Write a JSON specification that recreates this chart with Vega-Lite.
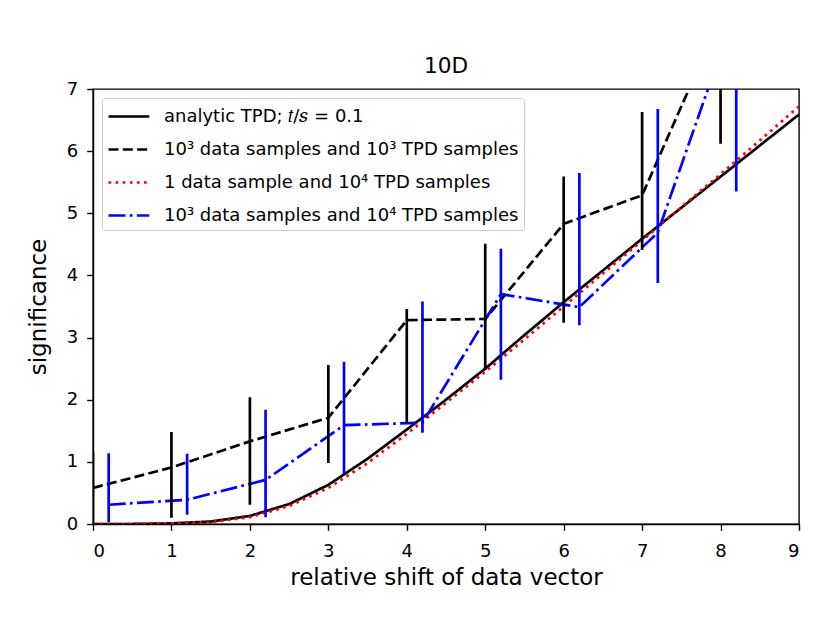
{
  "$schema": "https://vega.github.io/schema/vega-lite/v6.json",
  "width": 706,
  "height": 435,
  "autosize": {"type": "none"},
  "padding": {"left": 93, "top": 89, "right": 32, "bottom": 99},
  "background": "white",
  "title": {"text": "10D", "fontSize": 21.6, "font": "DejaVu Sans", "fontWeight": "normal", "color": "black", "offset": 2},
  "data": {
    "values": [
      {"series": "analytic", "x": 0, "y": 0},
      {"series": "analytic", "x": 0.5, "y": 0},
      {"series": "analytic", "x": 1, "y": 0.01},
      {"series": "analytic", "x": 1.5, "y": 0.04},
      {"series": "analytic", "x": 2, "y": 0.13},
      {"series": "analytic", "x": 2.5, "y": 0.32},
      {"series": "analytic", "x": 3, "y": 0.63},
      {"series": "analytic", "x": 3.5, "y": 1.05},
      {"series": "analytic", "x": 4, "y": 1.52},
      {"series": "analytic", "x": 4.5, "y": 2.0},
      {"series": "analytic", "x": 5, "y": 2.5},
      {"series": "analytic", "x": 5.5, "y": 3.04},
      {"series": "analytic", "x": 6, "y": 3.57},
      {"series": "analytic", "x": 6.5, "y": 4.08},
      {"series": "analytic", "x": 7, "y": 4.59},
      {"series": "analytic", "x": 7.5, "y": 5.09},
      {"series": "analytic", "x": 8, "y": 5.59},
      {"series": "analytic", "x": 8.5, "y": 6.09},
      {"series": "analytic", "x": 9, "y": 6.59},
      {"series": "d3t3", "x": 0, "y": 0.58, "lo": 0.0, "hi": 1.16},
      {"series": "d3t3", "x": 1, "y": 0.91, "lo": 0.1, "hi": 1.48},
      {"series": "d3t3", "x": 2, "y": 1.33, "lo": 0.31, "hi": 2.04},
      {"series": "d3t3", "x": 3, "y": 1.71, "lo": 0.98, "hi": 2.56},
      {"series": "d3t3", "x": 4, "y": 3.28, "lo": 1.62, "hi": 3.46},
      {"series": "d3t3", "x": 5, "y": 3.3, "lo": 2.48, "hi": 4.51},
      {"series": "d3t3", "x": 6, "y": 4.83, "lo": 3.24, "hi": 5.59},
      {"series": "d3t3", "x": 7, "y": 5.29, "lo": 4.41, "hi": 6.63},
      {"series": "d3t3", "x": 8, "y": 8.15, "lo": 6.12, "hi": 10.2},
      {"series": "d1t4", "x": 0, "y": 0},
      {"series": "d1t4", "x": 0.5, "y": 0},
      {"series": "d1t4", "x": 1, "y": 0.01},
      {"series": "d1t4", "x": 1.5, "y": 0.03},
      {"series": "d1t4", "x": 2, "y": 0.11},
      {"series": "d1t4", "x": 2.5, "y": 0.29},
      {"series": "d1t4", "x": 3, "y": 0.58},
      {"series": "d1t4", "x": 3.5, "y": 0.98},
      {"series": "d1t4", "x": 4, "y": 1.45},
      {"series": "d1t4", "x": 4.5, "y": 1.95},
      {"series": "d1t4", "x": 5, "y": 2.45},
      {"series": "d1t4", "x": 5.5, "y": 2.97},
      {"series": "d1t4", "x": 6, "y": 3.5},
      {"series": "d1t4", "x": 6.5, "y": 4.03},
      {"series": "d1t4", "x": 7, "y": 4.56},
      {"series": "d1t4", "x": 7.5, "y": 5.1},
      {"series": "d1t4", "x": 8, "y": 5.63},
      {"series": "d1t4", "x": 8.5, "y": 6.17},
      {"series": "d1t4", "x": 9, "y": 6.72},
      {"series": "d3t4", "x": 0.2, "y": 0.31, "lo": 0.03, "hi": 1.14},
      {"series": "d3t4", "x": 1.2, "y": 0.39, "lo": 0.15, "hi": 1.13},
      {"series": "d3t4", "x": 2.2, "y": 0.71, "lo": 0.11, "hi": 1.84},
      {"series": "d3t4", "x": 3.2, "y": 1.59, "lo": 0.81, "hi": 2.61},
      {"series": "d3t4", "x": 4.2, "y": 1.63, "lo": 1.47, "hi": 3.58},
      {"series": "d3t4", "x": 5.2, "y": 3.7, "lo": 2.32, "hi": 4.43},
      {"series": "d3t4", "x": 6.2, "y": 3.49, "lo": 3.2, "hi": 5.65},
      {"series": "d3t4", "x": 7.2, "y": 4.69, "lo": 3.88, "hi": 6.68},
      {"series": "d3t4", "x": 8.2, "y": 8.3, "lo": 5.35, "hi": 11.2}
    ]
  },
  "encoding": {
    "x": {
      "field": "x",
      "type": "quantitative",
      "scale": {"domain": [0, 9], "nice": false, "zero": false},
      "axis": {"title": "relative shift of data vector", "values": [0, 1, 2, 3, 4, 5, 6, 7, 8, 9], "format": "d"}
    },
    "color": {
      "field": "series",
      "type": "nominal",
      "scale": {
        "domain": ["analytic", "d3t3", "d1t4", "d3t4"],
        "range": ["black", "black", "#ff0000", "#0000ff"]
      },
      "legend": {
        "title": null,
        "orient": "top-left",
        "offset": 9,
        "symbolType": "M-1,0H2.4",
        "symbolSize": 576,
        "symbolStrokeWidth": 2.7,
        "labelFontSize": 18,
        "labelFont": "DejaVu Sans",
        "labelColor": "black",
        "labelLimit": 0,
        "labelOffset": 30,
        "labelExpr": "datum.value == 'analytic' ? 'analytic TPD; 𝑡/𝑠 = 0.1' : datum.value == 'd3t3' ? '10³ data samples and 10³ TPD samples' : datum.value == 'd1t4' ? '1 data sample and 10⁴ TPD samples' : '10³ data samples and 10⁴ TPD samples'",
        "rowPadding": 10,
        "padding": 5,
        "strokeColor": "#cccccc",
        "fillColor": "rgba(255,255,255,0.85)",
        "cornerRadius": 3
      }
    },
    "strokeDash": {
      "field": "series",
      "type": "nominal",
      "scale": {
        "domain": ["analytic", "d3t3", "d1t4", "d3t4"],
        "range": [[1, 0], [10, 4.3], [2.7, 4.4], [17, 4.3, 2.7, 4.3]]
      },
      "legend": null
    }
  },
  "layer": [
    {
      "mark": {"type": "line", "strokeWidth": 2.7, "clip": true},
      "encoding": {
        "y": {
          "field": "y",
          "type": "quantitative",
          "scale": {"domain": [0, 7], "nice": false},
          "axis": {"title": "significance", "values": [0, 1, 2, 3, 4, 5, 6, 7], "format": "d"}
        },
        "order": {"field": "x", "type": "quantitative"}
      }
    },
    {
      "transform": [{"filter": "isValid(datum.lo)"}],
      "mark": {"type": "rule", "strokeWidth": 2.7, "clip": true},
      "encoding": {
        "y": {"field": "lo", "type": "quantitative"},
        "y2": {"field": "hi"},
        "strokeDash": {"value": [1, 0]}
      }
    }
  ],
  "config": {
    "font": "DejaVu Sans",
    "view": {"stroke": "black", "strokeWidth": 1.4},
    "axis": {
      "grid": false,
      "domainColor": "black",
      "domainWidth": 1.4,
      "tickColor": "black",
      "tickSize": 6.3,
      "tickWidth": 1.4,
      "labelFontSize": 18,
      "labelColor": "black",
      "titleFontSize": 23,
      "titleFontWeight": "normal",
      "titleColor": "black",
      "labelFont": "DejaVu Sans",
      "titleFont": "DejaVu Sans"
    },
    "axisX": {"titlePadding": 6, "labelPadding": 12},
    "axisY": {"titlePadding": 16, "labelPadding": 9}
  }
}
